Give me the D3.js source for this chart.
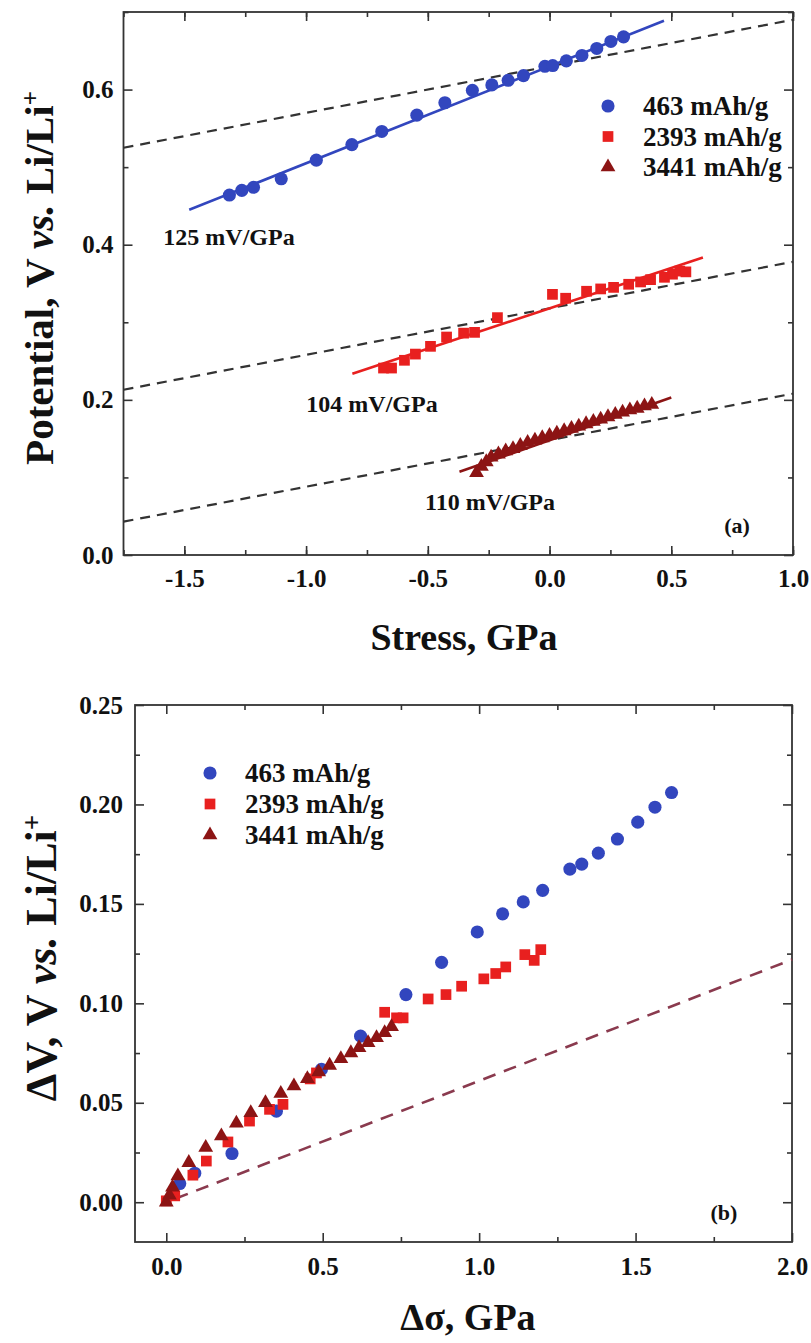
<!DOCTYPE html>
<html>
<head>
<meta charset="utf-8">
<script src="https://cdn.jsdelivr.net/npm/d3@7"></script>
<style>
  body { margin: 0; background: #fff; }
  text { font-family: "Liberation Serif", "Times New Roman", serif; font-weight: bold; fill: #111; }
</style>
</head>
<body>
<svg id="fig" width="811" height="1343"></svg>
<script>
// ---------- data ----------
const seriesNames = ["463 mAh/g", "2393 mAh/g", "3441 mAh/g"];

// panel (a): potential vs. stress
const stressBlue = [-1.315, -1.264, -1.216, -1.102, -0.958, -0.812, -0.689, -0.545, -0.430, -0.317,
  -0.237, -0.170, -0.107, -0.019, 0.013, 0.069, 0.133, 0.194, 0.252, 0.304];
const potentialBlue = [0.464, 0.470, 0.474, 0.485, 0.509, 0.529, 0.546, 0.567, 0.583, 0.599,
  0.606, 0.612, 0.618, 0.630, 0.631, 0.637, 0.644, 0.653, 0.662, 0.668];

const stressRed = [-0.682, -0.649, -0.596, -0.551, -0.489, -0.423, -0.353, -0.308, -0.214, 0.012,
  0.066, 0.152, 0.210, 0.263, 0.325, 0.374, 0.415, 0.472, 0.505, 0.535, 0.560];
const potentialRed = [0.241, 0.241, 0.251, 0.259, 0.269, 0.281, 0.286, 0.287, 0.306, 0.336,
  0.331, 0.340, 0.343, 0.345, 0.349, 0.352, 0.355, 0.358, 0.362, 0.366, 0.365];

const stressBrown = [-0.30, -0.28, -0.26, -0.24, -0.21, -0.18, -0.15, -0.12, -0.09, -0.06, -0.03, 0.00,
  0.03, 0.06, 0.09, 0.12, 0.15, 0.18, 0.21, 0.24, 0.27, 0.30, 0.33, 0.36, 0.39, 0.42];
const potentialBrown = [0.106, 0.114, 0.120, 0.126, 0.130, 0.134, 0.137, 0.141, 0.145, 0.148, 0.151, 0.154,
  0.157, 0.160, 0.163, 0.166, 0.169, 0.172, 0.175, 0.178, 0.181, 0.184, 0.187, 0.189, 0.192, 0.194];

// linear fits (slope in V/GPa), their stress ranges, and the reference slope of the dashed lines
const fitSlopes = [0.125, 0.104, 0.110];
const fitIntercepts = [0.630, 0.318, 0.148];
const fitRanges = [[-1.48, 0.47], [-0.81, 0.63], [-0.37, 0.50]];
const fitLabels = ["125 mV/GPa", "104 mV/GPa", "110 mV/GPa"];
const refSlope = 0.06;

const stressTicks = [-1.5, -1.0, -0.5, 0.0, 0.5, 1.0];
const potentialTicks = [0.0, 0.2, 0.4, 0.6];

// panel (b): potential change vs. stress change
const dSigmaBlue = [0.043, 0.091, 0.210, 0.352, 0.496, 0.621, 0.766, 0.880, 0.994, 1.075,
  1.141, 1.203, 1.290, 1.328, 1.381, 1.442, 1.507, 1.562, 1.615];
const dVBlue = [0.0094, 0.0146, 0.0245, 0.0458, 0.0668, 0.0835, 0.1044, 0.1206, 0.1359, 0.1450,
  0.1510, 0.1568, 0.1675, 0.1700, 0.1755, 0.1826, 0.1911, 0.1986, 0.2060];

const dSigmaRed = [0.000, 0.027, 0.085, 0.128, 0.197, 0.266, 0.330, 0.373, 0.460, 0.480, 0.698,
  0.736, 0.757, 0.837, 0.894, 0.944, 1.015, 1.053, 1.085, 1.146, 1.176, 1.197];
const dVRed = [0.0007, 0.0032, 0.0136, 0.0207, 0.0303, 0.0408, 0.0467, 0.0492, 0.0620, 0.0650, 0.0955,
  0.0927, 0.0927, 0.1022, 0.1044, 0.1086, 0.1123, 0.1150, 0.1183, 0.1245, 0.1216, 0.1270];

const dSigmaBrown = [0.000, 0.010, 0.020, 0.037, 0.072, 0.126, 0.176, 0.224, 0.270, 0.317, 0.366,
  0.408, 0.451, 0.487, 0.522, 0.558, 0.590, 0.616, 0.645, 0.672, 0.698, 0.720];
const dVBrown = [0.0000, 0.0035, 0.0075, 0.0132, 0.0199, 0.0275, 0.0333, 0.0397, 0.0450, 0.0500, 0.0547,
  0.0584, 0.0621, 0.0655, 0.0688, 0.0721, 0.0751, 0.0777, 0.0802, 0.0827, 0.0852, 0.0882];

const refSlopeB = 0.061;
const refRangeB = [0.03, 2.0];

const dSigmaTicks = [0.0, 0.5, 1.0, 1.5, 2.0];
const dVTicks = [0.00, 0.05, 0.10, 0.15, 0.20, 0.25];

// ---------- styling ----------
const colors = ["#3246be", "#e8201f", "#8c1414"];
const shapes = [d3.symbolCircle, d3.symbolSquare, d3.symbolTriangle];
const sizes = [135, 115, 95];

const svg = d3.select("#fig");

function range(a, b, step) {
  const out = [];
  for (let v = a; v <= b + 1e-9; v += step) out.push(+v.toFixed(4));
  return out;
}

// plain hyphen for negative numbers
const fmt = digits => d => d.toFixed(digits);

function drawFrame(g, x, y, xMajor, xMinor, yMajor, yMinor, xFmt, yFmt, padX, padY) {
  const [x0, x1] = x.range();
  const [y0, y1] = y.range(); // y0 bottom, y1 top
  const clean = sel => { sel.select(".domain").remove(); sel.selectAll("line").attr("stroke", "#333").attr("stroke-width", 1.6); };

  g.append("g").attr("transform", `translate(0,${y0})`)
    .call(d3.axisBottom(x).tickValues(xMajor).tickSize(-9).tickPadding(padX).tickFormat(xFmt))
    .call(clean).selectAll("text").style("font-size", "25px").attr("fill", "#111");
  g.append("g").attr("transform", `translate(0,${y0})`)
    .call(d3.axisBottom(x).tickValues(xMinor).tickSize(-5).tickFormat("")).call(clean);
  g.append("g").attr("transform", `translate(0,${y1})`)
    .call(d3.axisTop(x).tickValues(xMajor).tickSize(-9).tickFormat("")).call(clean);
  g.append("g").attr("transform", `translate(0,${y1})`)
    .call(d3.axisTop(x).tickValues(xMinor).tickSize(-5).tickFormat("")).call(clean);

  g.append("g").attr("transform", `translate(${x0},0)`)
    .call(d3.axisLeft(y).tickValues(yMajor).tickSize(-9).tickPadding(padY).tickFormat(yFmt))
    .call(clean).selectAll("text").style("font-size", "25px").attr("fill", "#111");
  g.append("g").attr("transform", `translate(${x0},0)`)
    .call(d3.axisLeft(y).tickValues(yMinor).tickSize(-5).tickFormat("")).call(clean);
  g.append("g").attr("transform", `translate(${x1},0)`)
    .call(d3.axisRight(y).tickValues(yMajor).tickSize(-9).tickFormat("")).call(clean);
  g.append("g").attr("transform", `translate(${x1},0)`)
    .call(d3.axisRight(y).tickValues(yMinor).tickSize(-5).tickFormat("")).call(clean);

  g.append("rect").attr("x", x0).attr("y", y1).attr("width", x1 - x0).attr("height", y0 - y1)
    .attr("fill", "none").attr("stroke", "#333").attr("stroke-width", 1.8);
}

function drawPoints(g, x, y, xs, ys, i) {
  g.append("g").selectAll("path").data(xs.map((v, k) => [v, ys[k]])).join("path")
    .attr("transform", d => `translate(${x(d[0])},${y(d[1])})`)
    .attr("d", d3.symbol().type(shapes[i]).size(sizes[i]))
    .attr("fill", colors[i]);
}

function drawLegend(g, lx, ly, dy) {
  seriesNames.forEach((name, i) => {
    g.append("path").attr("transform", `translate(${lx},${ly + i * dy})`)
      .attr("d", d3.symbol().type(shapes[i]).size(sizes[i])).attr("fill", colors[i]);
    g.append("text").attr("x", lx + 35).attr("y", ly + i * dy).attr("dy", "0.35em")
      .style("font-size", "27px").text(name);
  });
}

function yTitle(g, cx, cy, first, size) {
  const t = g.append("text").attr("transform", `translate(${cx},${cy}) rotate(-90)`)
    .attr("text-anchor", "middle").style("font-size", size + "px");
  t.append("tspan").text(first + " ");
  t.append("tspan").style("font-style", "italic").text("vs.");
  t.append("tspan").text(" Li/Li");
  t.append("tspan").attr("dy", "-0.55em").style("font-size", Math.round(size * 0.62) + "px").text("+");
}

// ---------- panel (a) ----------
const gA = svg.append("g");
const xA = d3.scaleLinear().domain([-1.75, 1.0]).range([123.5, 793]);
const yA = d3.scaleLinear().domain([0, 0.7]).range([555, 12]);

drawFrame(gA, xA, yA, stressTicks, range(-1.75, 1.0, 0.25), potentialTicks, range(0.1, 0.7, 0.2),
  fmt(1), fmt(1), 14, 10);

// dashed reference lines through each fit's zero-stress intercept
const lineA = d3.line().x(d => xA(d[0])).y(d => yA(d[1]));
fitIntercepts.forEach(b => {
  gA.append("path").datum(xA.domain().map(s => [s, b + refSlope * s]))
    .attr("d", lineA).attr("fill", "none").attr("stroke", "#333")
    .attr("stroke-width", 2.2).attr("stroke-dasharray", "10,7");
});

// fitted lines
fitSlopes.forEach((m, i) => {
  gA.append("path").datum(fitRanges[i].map(s => [s, fitIntercepts[i] + m * s]))
    .attr("d", lineA).attr("fill", "none").attr("stroke", colors[i]).attr("stroke-width", 2.6);
});

drawPoints(gA, xA, yA, stressBlue, potentialBlue, 0);
drawPoints(gA, xA, yA, stressRed, potentialRed, 1);
drawPoints(gA, xA, yA, stressBrown, potentialBrown, 2);

// slope annotations
const fitLabelPos = [[229, 237], [372, 404], [490, 502]];
fitLabels.forEach((t, i) => {
  gA.append("text").attr("x", fitLabelPos[i][0]).attr("y", fitLabelPos[i][1]).attr("dy", "0.35em")
    .attr("text-anchor", "middle").style("font-size", "24px").text(t);
});

drawLegend(gA, 608, 106, 30.5);
gA.append("text").attr("x", 737).attr("y", 525).attr("dy", "0.35em").attr("text-anchor", "middle")
  .style("font-size", "22px").text("(a)");

gA.append("text").attr("x", 464).attr("y", 650).attr("text-anchor", "middle")
  .style("font-size", "38px").text("Stress, GPa");
yTitle(gA, 53, 278, "Potential, V", 41);

// ---------- panel (b) ----------
const gB = svg.append("g");
const xB = d3.scaleLinear().domain([-0.1, 2.0]).range([135, 792]);
const yB = d3.scaleLinear().domain([-0.02, 0.25]).range([1242, 705]);

drawFrame(gB, xB, yB, dSigmaTicks, range(0.25, 1.75, 0.5), dVTicks, range(0.025, 0.225, 0.05),
  fmt(1), fmt(2), 15, 12);

const lineB = d3.line().x(d => xB(d[0])).y(d => yB(d[1]));
gB.append("path").datum(refRangeB.map(s => [s, refSlopeB * s]))
  .attr("d", lineB).attr("fill", "none").attr("stroke", "#8a3a4e")
  .attr("stroke-width", 2.6).attr("stroke-dasharray", "13,9");

drawPoints(gB, xB, yB, dSigmaBlue, dVBlue, 0);
drawPoints(gB, xB, yB, dSigmaRed, dVRed, 1);
drawPoints(gB, xB, yB, dSigmaBrown, dVBrown, 2);

drawLegend(gB, 210, 773, 31);
gB.append("text").attr("x", 724).attr("y", 1212).attr("dy", "0.35em").attr("text-anchor", "middle")
  .style("font-size", "22px").text("(b)");

gB.append("text").attr("x", 468).attr("y", 1330).attr("text-anchor", "middle")
  .style("font-size", "38px").text("Δσ, GPa");
yTitle(gB, 56, 958, "ΔV, V", 44);
</script>
</body>
</html>
